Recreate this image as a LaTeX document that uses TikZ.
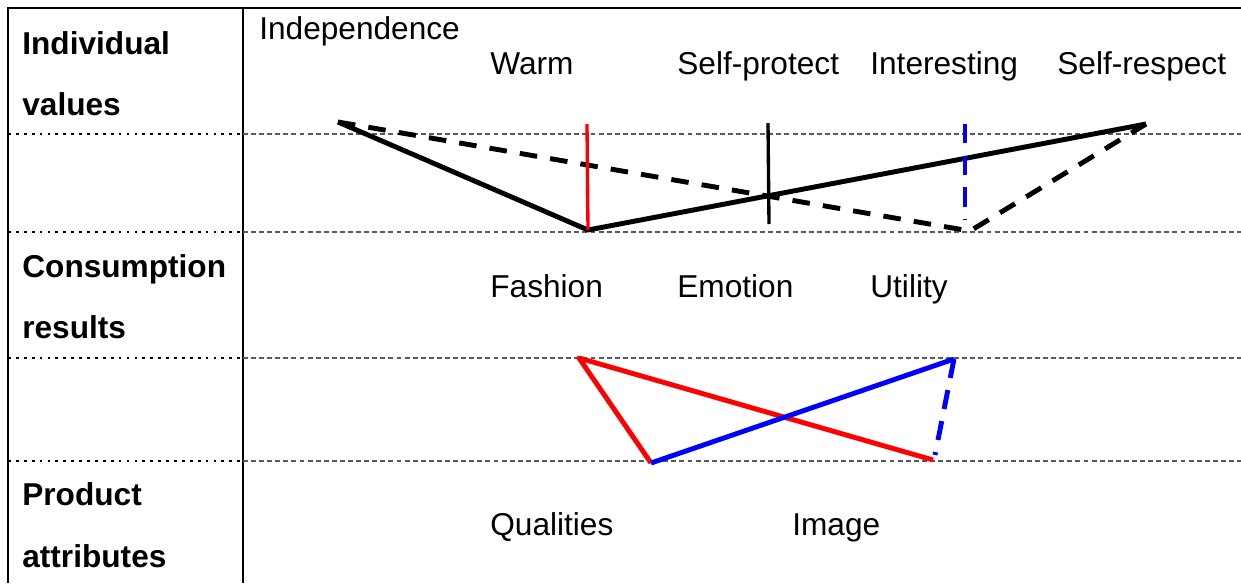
\documentclass[tikz,border=0pt]{standalone}
\usepackage{fontspec}
\setmainfont{Liberation Sans}
\begin{document}
\begin{tikzpicture}[
  x=0.02cm, y=-0.02cm,
  font=\fontsize{18}{21}\selectfont,
  lvl/.style={font=\fontsize{18}{21}\selectfont\bfseries, anchor=base west, inner sep=0pt},
  item/.style={anchor=base west, inner sep=0pt},
  frame/.style={line width=1.6pt, black},
  rowl/.style={line width=0.9pt, black, dash pattern=on 1.6pt off 2.9pt},
  rowr/.style={line width=0.6pt, black!65, dash pattern=on 2.8pt off 1.8pt},
  ch/.style={line width=2.8pt, line join=round},
  chd/.style={ch, dash pattern=on 10pt off 7.5pt},
  tick/.style={line width=1.9pt},
  tickd/.style={line width=2.3pt, dash pattern=on 11pt off 7pt},
]
  \def\xL{8}     % left border
  \def\xM{243}   % column divider
  \def\xR{1241}  % right edge

  \useasboundingbox (0,0) rectangle (1241,583);

  % --- Frame ---
  \draw[frame] (\xL,583) -- (\xL,8) -- (\xR,8);
  \draw[frame] (\xM,8) -- (\xM,583);

  % --- Row separators ---
  \foreach \y in {134,232,358,461} {
    \draw[rowl] (\xL,\y) -- (\xM,\y);
    \draw[rowr] (\xM,\y) -- (\xR,\y);
  }

  % --- Level names ---
  \node[lvl] (lvA1) at (22,54)  {Individual};
  \node[lvl] (lvA2) at (22,115) {values};
  \node[lvl] (lvB1) at (22,277) {Consumption};
  \node[lvl] (lvB2) at (22,338) {results};
  \node[lvl] (lvC1) at (22,505) {Product};
  \node[lvl] (lvC2) at (22,567) {attributes};

  % --- Items ---
  \node[item] (indep)   at (259,39)  {Independence};
  \node[item] (warm)    at (490,74)  {Warm};
  \node[item] (sprot)   at (677,74)  {Self-protect};
  \node[item] (inter)   at (870,74)  {Interesting};
  \node[item] (sresp)   at (1057,74) {Self-respect};
  \node[item] (fash)    at (490,297) {Fashion};
  \node[item] (emot)    at (677,297) {Emotion};
  \node[item] (util)    at (870,297) {Utility};
  \node[item] (qual)    at (490,535) {Qualities};
  \node[item] (image)   at (792,535) {Image};

  % --- Ladder points ---
  \coordinate (pIndep) at (338,122);
  \coordinate (pSresp) at (1146,124);
  \coordinate (pWarmT) at (587,124);
  \coordinate (pWarmB) at (588,230);
  \coordinate (pProtT) at (768,123);
  \coordinate (pProtB) at (769,224);
  \coordinate (pIntT)  at (965,124);
  \coordinate (pIntB)  at (965,220);
  \coordinate (pIntC)  at (970,231);
  \coordinate (pFash)  at (579,358);
  \coordinate (pQual)  at (651,463);
  \coordinate (pUtil)  at (954,359);
  \coordinate (pImage) at (933,460);
  \coordinate (pImgD)  at (935,455);

  % ======== Values chains ========
  \draw[ch]  (pIndep) -- (pWarmB) -- (pSresp);
  \draw[chd] (pIndep) -- (pIntC) -- (pSresp);
  \draw[tick, red]   (pWarmT) -- (pWarmB);
  \draw[tick]        (pProtT) -- (pProtB);
  \draw[tickd, blue] (pIntT) -- (pIntB);

  % ======== Attribute chains ========
  \draw[ch, red]  (pQual) -- (pFash) -- (pImage);
  \draw[ch, blue] (pQual) -- (pUtil);
  \draw[ch, blue, dash pattern=on 11pt off 7pt] (pUtil) -- (pImgD);

\end{tikzpicture}
\end{document}
